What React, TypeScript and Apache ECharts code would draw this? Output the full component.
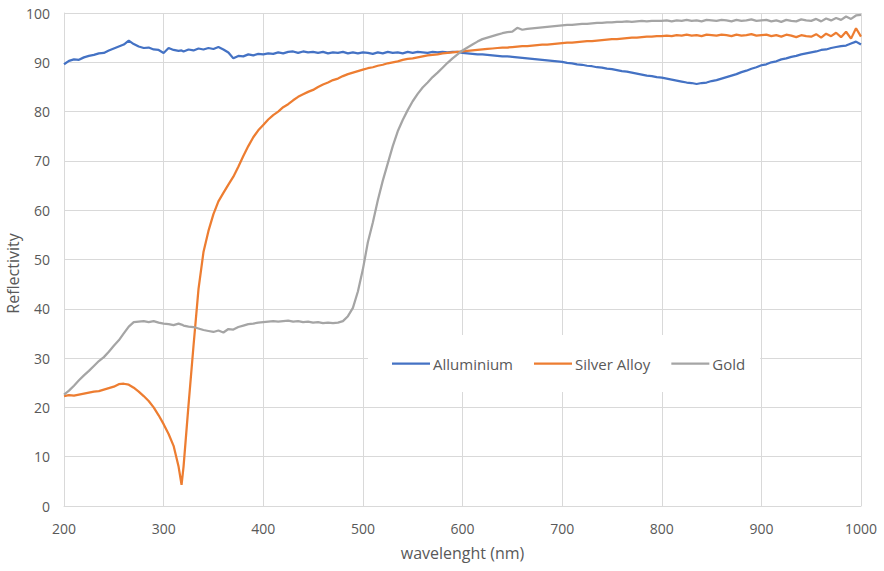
import React, { useEffect, useRef } from "react";
import * as echarts from "echarts";

const wavelengths = [
  200, 205, 210, 215, 220, 225, 230, 235, 240, 245, 250, 255, 260, 265, 270, 275, 280, 285, 290, 295,
  300, 305, 310, 315, 318, 320, 325, 330, 335, 340, 345, 350, 355, 360, 365, 370, 375, 380, 385, 390, 395,
  400, 405, 410, 415, 420, 425, 430, 435, 440, 445, 450, 455, 460, 465, 470, 475, 480, 485, 490, 495,
  500, 505, 510, 515, 520, 525, 530, 535, 540, 545, 550, 555, 560, 565, 570, 575, 580, 585, 590, 595,
  600, 605, 610, 615, 620, 625, 630, 635, 640, 645, 650, 655, 660, 665, 670, 675, 680, 685, 690, 695,
  700, 705, 710, 715, 720, 725, 730, 735, 740, 745, 750, 755, 760, 765, 770, 775, 780, 785, 790, 795,
  800, 805, 810, 815, 820, 825, 830, 835, 840, 845, 850, 855, 860, 865, 870, 875, 880, 885, 890, 895,
  900, 905, 910, 915, 920, 925, 930, 935, 940, 945, 950, 955, 960, 965, 970, 975, 980, 985, 990, 995, 1000,
];

const aluminium = [
  89.6, 90.3, 90.6, 90.5, 91.0, 91.3, 91.5, 91.8, 91.9, 92.4, 92.8, 93.2, 93.6, 94.4, 93.7, 93.2, 92.9, 93.0, 92.6, 92.5,
  91.9, 92.9, 92.5, 92.3, 92.4, 92.2, 92.6, 92.4, 92.8, 92.6, 92.9, 92.7, 93.1, 92.6, 92.0, 90.8, 91.3, 91.2, 91.6, 91.4, 91.7,
  91.6, 91.8, 91.7, 92.0, 91.8, 92.1, 92.2, 91.9, 92.2, 92.0, 92.1, 91.9, 92.1, 91.8, 92.0, 91.9, 92.1, 91.8, 92.0, 91.8,
  92.0, 91.9, 91.7, 92.0, 91.8, 92.1, 91.9, 92.0, 91.8, 92.1, 91.9, 92.1, 92.0, 91.9, 92.1, 92.0, 92.1, 92.0, 92.1, 92.1,
  91.9, 91.8, 91.7, 91.6, 91.6, 91.5, 91.4, 91.3, 91.2, 91.2, 91.1, 91.0, 90.9, 90.8, 90.7, 90.6, 90.5, 90.4, 90.3, 90.2,
  90.1, 89.9, 89.8, 89.6, 89.5, 89.3, 89.2, 89.0, 88.9, 88.7, 88.6, 88.4, 88.2, 88.1, 87.9, 87.7, 87.5, 87.3, 87.2, 87.0,
  86.9, 86.7, 86.5, 86.3, 86.1, 85.9, 85.8, 85.6, 85.8, 85.9, 86.2, 86.4, 86.7, 87.0, 87.3, 87.6, 88.0, 88.3, 88.7, 89.0,
  89.4, 89.6, 90.0, 90.2, 90.6, 90.8, 91.1, 91.3, 91.6, 91.8, 92.0, 92.2, 92.5, 92.6, 92.9, 93.1, 93.3, 93.4, 93.8, 94.2, 93.6,
];

const silverAlloy = [
  22.3, 22.5, 22.4, 22.6, 22.8, 23.0, 23.2, 23.3, 23.6, 23.9, 24.2, 24.7, 24.8, 24.6, 24.0, 23.2, 22.3, 21.3, 20.0, 18.4,
  16.6, 14.6, 12.2, 8.0, 4.3, 8.0, 20.5, 32.5, 44.0, 51.5, 55.8, 59.2, 61.8, 63.5, 65.2, 66.8, 68.8, 71.0, 73.0, 74.8, 76.2,
  77.3, 78.4, 79.3, 80.0, 80.9, 81.5, 82.3, 83.0, 83.5, 84.0, 84.4, 85.0, 85.5, 85.9, 86.4, 86.7, 87.2, 87.6, 87.9, 88.2,
  88.5, 88.8, 89.0, 89.3, 89.5, 89.8, 90.0, 90.2, 90.5, 90.7, 90.8, 91.0, 91.2, 91.4, 91.5, 91.6, 91.8, 91.9, 92.0, 92.1,
  92.2, 92.3, 92.4, 92.5, 92.6, 92.7, 92.8, 92.9, 93.0, 93.0, 93.1, 93.2, 93.3, 93.3, 93.4, 93.5, 93.6, 93.6, 93.7, 93.8,
  93.9, 94.0, 94.0, 94.1, 94.2, 94.3, 94.3, 94.4, 94.5, 94.6, 94.7, 94.7, 94.8, 94.9, 95.0, 95.0, 95.1, 95.2, 95.2, 95.3,
  95.3, 95.4, 95.3, 95.5, 95.4, 95.6, 95.4, 95.5, 95.3, 95.6, 95.5, 95.4, 95.6, 95.5, 95.3, 95.6, 95.4, 95.5, 95.7, 95.4,
  95.5, 95.6, 95.3, 95.5, 95.2, 95.6, 95.4, 95.1, 95.5, 95.3, 95.2, 95.7, 95.0, 95.8, 95.3, 96.0, 95.1, 96.2, 94.8, 96.9, 95.2,
];

const gold = [
  22.6, 23.4, 24.4, 25.5, 26.5, 27.4, 28.4, 29.4, 30.2, 31.3, 32.5, 33.6, 35.0, 36.4, 37.3, 37.4, 37.5, 37.3, 37.5, 37.2,
  37.0, 36.9, 36.7, 37.0, 36.8, 36.6, 36.4, 36.3, 36.0, 35.7, 35.5, 35.3, 35.6, 35.2, 35.9, 35.8, 36.3, 36.6, 36.9, 37.0, 37.2,
  37.3, 37.4, 37.5, 37.4, 37.5, 37.6, 37.4, 37.5, 37.3, 37.4, 37.2, 37.3, 37.1, 37.2, 37.1, 37.2, 37.5, 38.5, 40.2, 43.5,
  48.0, 53.5, 57.5, 62.0, 66.0, 69.5, 73.0, 76.0, 78.3, 80.3, 82.1, 83.6, 84.9, 85.9, 87.0, 87.9, 88.9, 89.9, 90.8, 91.6,
  92.4, 93.0, 93.6, 94.2, 94.7, 95.0, 95.3, 95.6, 95.9, 96.1, 96.2, 97.0, 96.6, 96.8, 96.9, 97.0, 97.1, 97.2, 97.3, 97.4,
  97.5, 97.6, 97.6, 97.7, 97.8, 97.8, 97.9, 98.0, 98.0, 98.1, 98.1, 98.2, 98.2, 98.3, 98.2, 98.3, 98.4, 98.3, 98.4, 98.4,
  98.4, 98.5, 98.3, 98.5, 98.4, 98.6, 98.4, 98.5, 98.3, 98.6, 98.5, 98.4, 98.6, 98.5, 98.3, 98.6, 98.4, 98.5, 98.7, 98.4,
  98.5, 98.6, 98.3, 98.5, 98.2, 98.6, 98.4, 98.3, 98.7, 98.5, 98.4, 98.8, 98.3, 98.9, 98.5, 99.0, 98.6, 99.3, 98.8, 99.5, 99.6,
];

const seriesNames = ["Alluminium", "Silver Alloy", "Gold"];
const seriesColors = ["#4472C4", "#ED7D31", "#A5A5A5"];
const seriesValues = [aluminium, silverAlloy, gold];

const FONT = "Open Sans";
const TEXT = "#595959";
const GRID = "#D9D9D9";

export default function App() {
  const ref = useRef<HTMLDivElement>(null);
  useEffect(() => {
    if (!ref.current) return;
    const chart = echarts.init(ref.current, undefined, { renderer: "svg" });
    chart.setOption({
      animation: false,
      backgroundColor: "#ffffff",
      grid: { left: 64, right: 23, top: 13, bottom: 65, outerBoundsMode: "none" },
      legend: {
        data: seriesNames,
        left: 368,
        top: 335,
        backgroundColor: "#ffffff",
        padding: [20, 15, 20, 24],
        icon: "rect",
        itemWidth: 38,
        itemHeight: 2.25,
        itemGap: 21,
        textStyle: { color: TEXT, fontSize: 15, fontFamily: FONT, lineHeight: 17, padding: [0, 0, 0, -2] },
      },
      xAxis: {
        type: "value",
        min: 200,
        max: 1000,
        interval: 100,
        name: "wavelenght (nm)",
        nameLocation: "middle",
        nameGap: 39,
        nameMoveOverlap: false,
        nameTextStyle: { color: TEXT, fontSize: 16, fontFamily: FONT },
        axisLine: { show: true, lineStyle: { color: GRID, width: 1 } },
        axisTick: { show: false },
        axisLabel: { color: TEXT, fontSize: 14, fontFamily: FONT, margin: 15, formatter: (v: number) => String(v) },
        splitLine: { show: true, lineStyle: { color: GRID, width: 1 } },
      },
      yAxis: {
        type: "value",
        min: 0,
        max: 100,
        interval: 10,
        name: "Reflectivity",
        nameLocation: "middle",
        nameGap: 43,
        nameMoveOverlap: false,
        nameTextStyle: { color: TEXT, fontSize: 16, fontFamily: FONT, padding: [0, 28, 0, 0] },
        axisLine: { show: true, lineStyle: { color: GRID, width: 1 } },
        axisTick: { show: false },
        axisLabel: { color: TEXT, fontSize: 14, fontFamily: FONT, margin: 14 },
        splitLine: { show: true, lineStyle: { color: GRID, width: 1 } },
      },
      series: seriesNames.map((name, i) => ({
        name,
        type: "line",
        symbol: "none",
        smooth: false,
        color: seriesColors[i],
        lineStyle: { color: seriesColors[i], width: 2.25 },
        data: wavelengths.map((w, j) => [w, seriesValues[i][j]]),
      })),
    });
    return () => chart.dispose();
  }, []);
  return <div ref={ref} style={{ width: 884, height: 571, position: "absolute", left: 0, top: 0 }} />;
}
